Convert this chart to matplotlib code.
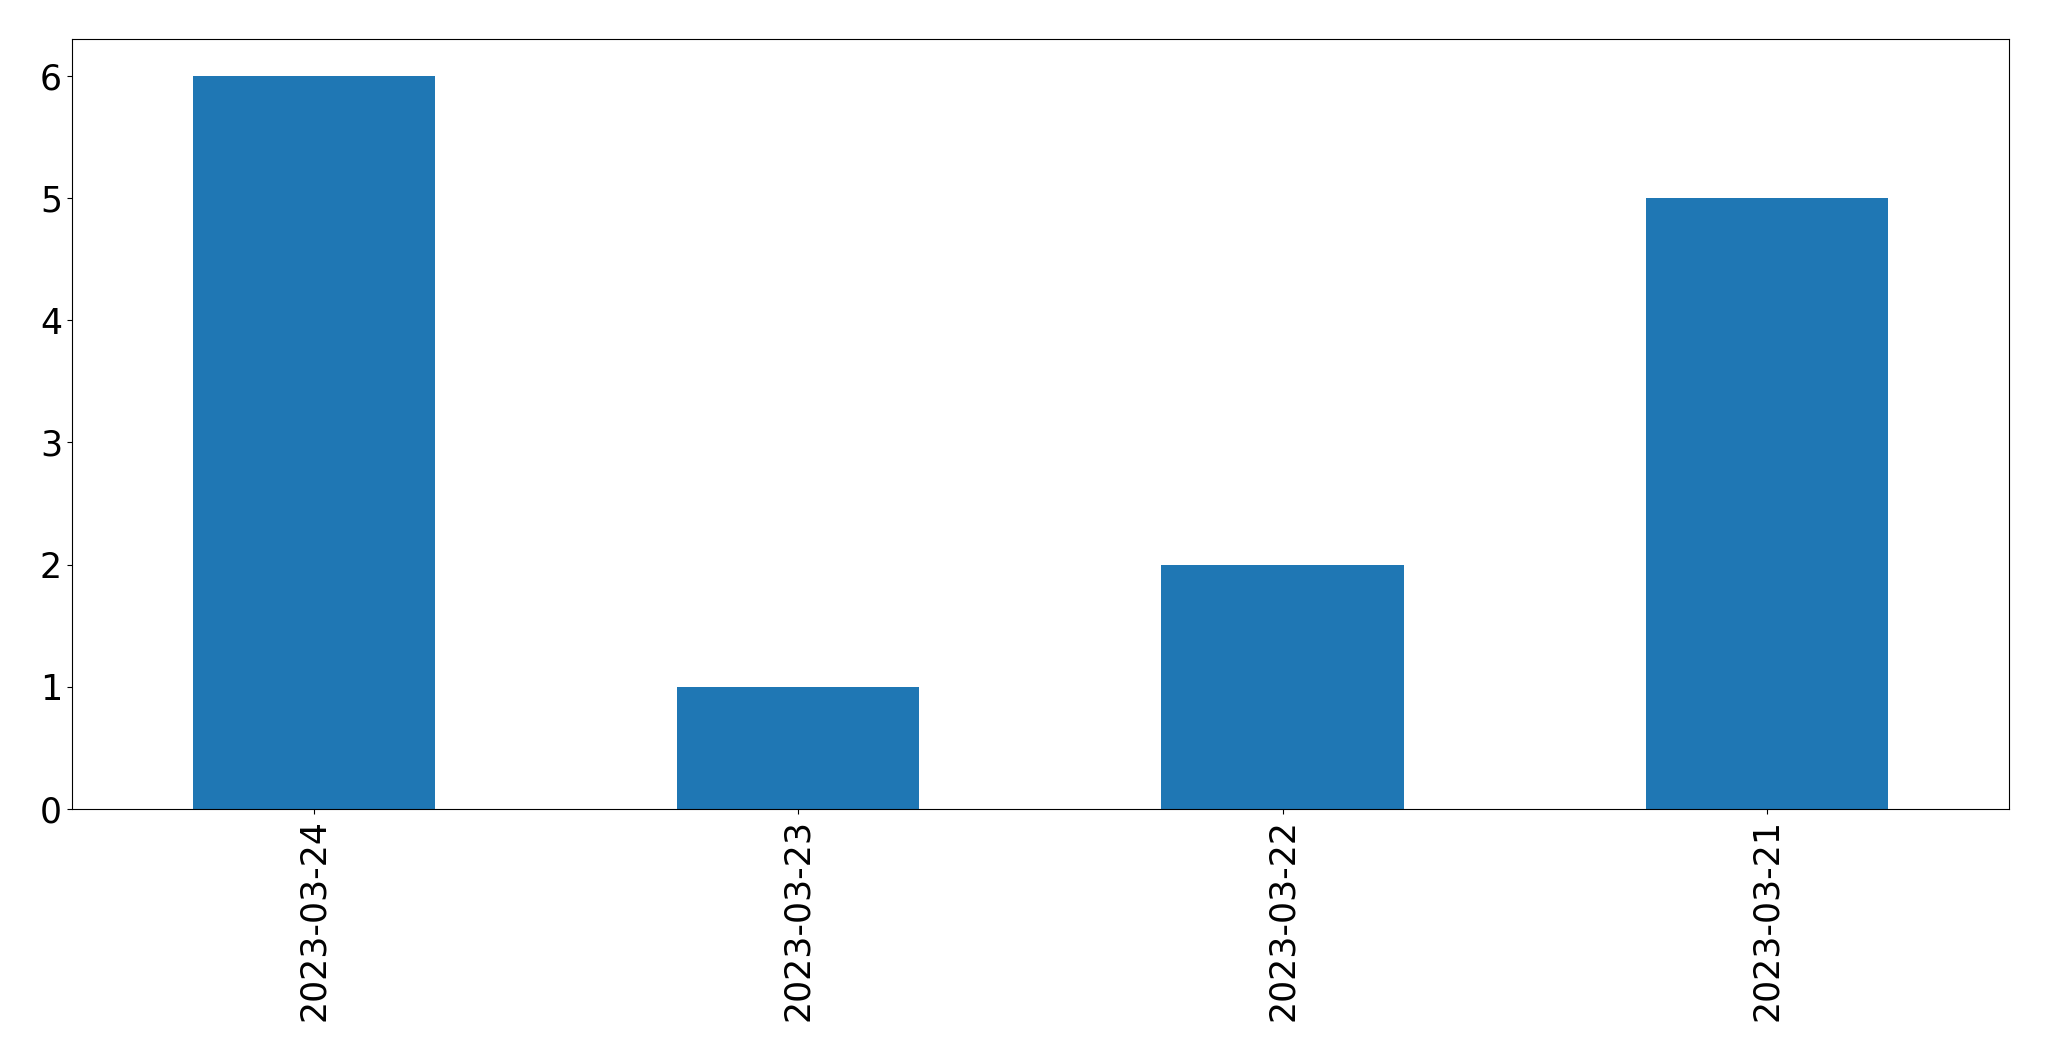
import matplotlib
matplotlib.use("Agg")
import matplotlib.pyplot as plt
import pandas as pd

# counts per date
dates = ["2023-03-24", "2023-03-23", "2023-03-22", "2023-03-21"]
counts = [6, 1, 2, 5]

s = pd.Series(counts, index=dates)

fig, ax = plt.subplots(figsize=(20.49, 10.61), dpi=100)
s.plot(kind="bar", ax=ax, color="#1f77b4", fontsize=25)

ax.tick_params(axis="both", labelsize=25)
plt.xticks(rotation=90)

fig.subplots_adjust(left=0.035, right=0.9805, top=0.963, bottom=0.2375)
fig.savefig("out.png", dpi=100)
